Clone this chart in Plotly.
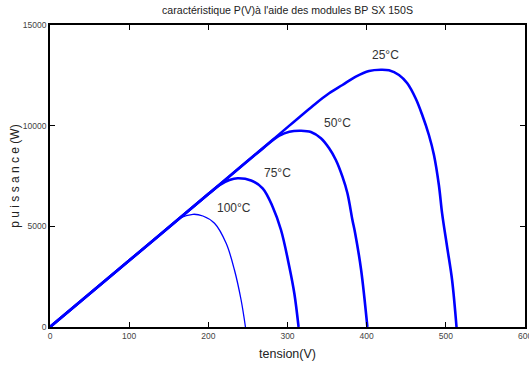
import plotly.graph_objects as go

# Data (V in volts, P in watts)
v25 = [0, 100, 200, 281, 335, 352.6, 369.4, 386.3, 403.0, 417.8, 428.2, 440.8, 451.3, 461.8,
       470.2, 478.6, 485.0, 491.2, 495.3, 501.6, 507.9, 513.5]
p25 = [0, 3300, 6600, 9288, 11080, 11608, 12020, 12432, 12716, 12780, 12750, 12517, 12105, 11360,
       10530, 9537, 8543, 7053, 5647, 3987, 2334, 0]

v50 = [0, 100, 200, 270, 289.7, 302.3, 317.0, 329.6, 342.2, 352.6, 361.1, 369.4, 375.7, 382.0,
       385.4, 393.0, 400.9]
p50 = [0, 3300, 6600, 8910, 9500, 9701, 9750, 9686, 9373, 8876, 8295, 7466, 6641, 5315,
       4669, 2831, 0]

v75 = [0, 100, 200, 214.1, 226.7, 237.2, 254.0, 268.6, 281.2, 291.8, 302.3, 308.6, 314.0]
p75 = [0, 3300, 6600, 7050, 7302, 7386, 7277, 6889, 5975, 4818, 2995, 1674, 0]

v100 = [0, 100, 150, 163.7, 180.5, 193.1, 207.8, 222.5, 233.0, 241.4, 246.9]
p100 = [0, 3300, 4950, 5400, 5598, 5513, 5151, 4157, 2831, 1341, 0]

labels = ["25°C", "50°C", "75°C", "100°C"]
label_v = [424, 363, 287, 233]
label_p = [13510, 10130, 7650, 5910]

x_ticks = [0, 100, 200, 300, 400, 500, 600]
y_ticks = [0, 5000, 10000, 15000]

FONT = "Liberation Sans, Arial, sans-serif"

fig = go.Figure()
series = [(v25, p25, 2.6), (v50, p50, 2.6), (v75, p75, 2.6), (v100, p100, 1.3)]
for vx, py, w in series:
    fig.add_trace(go.Scatter(x=vx, y=py, mode="lines",
                             line=dict(color="#0000ff", width=w, shape="spline", smoothing=1.0),
                             showlegend=False, hoverinfo="skip"))

for t, xv, yv in zip(labels, label_v, label_p):
    fig.add_annotation(x=xv, y=yv, text=t, showarrow=False,
                       font=dict(family=FONT, size=12, color="#333333"))

# last x tick label (partly cut by the page edge in the reference)
fig.add_annotation(x=x_ticks[-1], y=0, yref="paper", yanchor="top", yshift=-2,
                   text=str(x_ticks[-1]), showarrow=False,
                   font=dict(family=FONT, size=8.5, color="#444444"))

axis_common = dict(showgrid=False, zeroline=False, showline=True, linecolor="black",
                   linewidth=1.6, mirror="ticks", ticks="inside", ticklen=5,
                   tickcolor="black", tickwidth=1,
                   tickfont=dict(family=FONT, size=8.5, color="#444444"))

fig.update_xaxes(range=[0, 600], tickvals=x_ticks[:-1], ticktext=[str(t) for t in x_ticks[:-1]],
                 title=dict(text="tension(V)", font=dict(family=FONT, size=12.5, color="#222222"),
                            standoff=9),
                 **axis_common)
fig.update_yaxes(range=[0, 15000], tickvals=y_ticks, ticktext=[str(t) for t in y_ticks],
                 title=dict(text="p u i s s a n c e (W)", font=dict(family=FONT, size=12, color="#222222"),
                            standoff=1),
                 **axis_common)

fig.update_layout(
    width=529, height=366,
    margin=dict(l=50, r=2, t=25, b=39),
    paper_bgcolor="white", plot_bgcolor="white",
    title=dict(text="caractéristique P(V)à l'aide des modules BP SX 150S",
               font=dict(family=FONT, size=10.6, color="#222222"),
               xref="paper", x=0.5, xanchor="center", y=0.972, yanchor="middle"),
)

fig.write_html("out.html")
